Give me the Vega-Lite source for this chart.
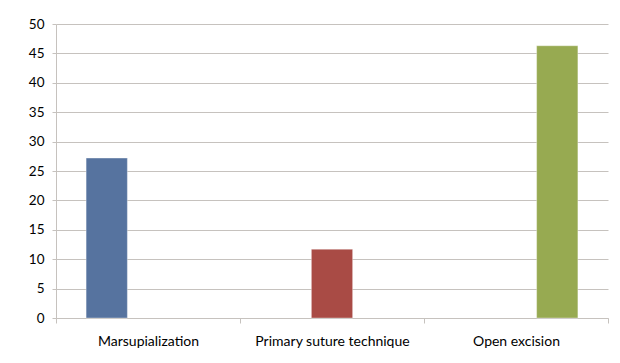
{
  "$schema": "https://vega.github.io/schema/vega-lite/v6.json",
  "width": 552,
  "height": 294,
  "autosize": {"type": "none"},
  "padding": {"left": 56, "top": 24, "right": 12, "bottom": 45},
  "background": "white",
  "data": {
    "values": [
      {"technique": "Marsupialization", "value": 27.2},
      {"technique": "Primary suture technique", "value": 11.7},
      {"technique": "Open excision", "value": 46.3}
    ]
  },
  "mark": {"type": "bar", "stroke": "#ffffff", "strokeOpacity": 0.35, "strokeWidth": 1},
  "encoding": {
    "x": {
      "field": "technique",
      "type": "nominal",
      "sort": ["Marsupialization", "Primary suture technique", "Open excision"],
      "scale": {"paddingInner": 0, "paddingOuter": 0},
      "axis": {
        "title": null,
        "labelAngle": 0,
        "tickBand": "extent",
        "tickSize": 5,
        "tickColor": "#c6c2be",
        "domainColor": "#c6c2be",
        "labelPadding": 11,
        "labelFont": "Lato",
        "labelFontSize": 14,
        "labelColor": "#000000"
      }
    },
    "xOffset": {
      "field": "technique",
      "type": "nominal",
      "sort": ["Marsupialization", "Primary suture technique", "Open excision"],
      "scale": {"paddingInner": 0, "paddingOuter": 0.73}
    },
    "y": {
      "field": "value",
      "type": "quantitative",
      "scale": {"domain": [0, 50]},
      "axis": {
        "title": null,
        "values": [0, 5, 10, 15, 20, 25, 30, 35, 40, 45, 50],
        "tickSize": 4,
        "tickColor": "#c6c2be",
        "domainColor": "#c6c2be",
        "gridColor": "#c6c2be",
        "labelPadding": 8,
        "labelFont": "Lato",
        "labelFontSize": 13.5,
        "labelColor": "#000000"
      }
    },
    "color": {
      "field": "technique",
      "type": "nominal",
      "scale": {
        "domain": ["Marsupialization", "Primary suture technique", "Open excision"],
        "range": ["#56739f", "#a94b45", "#97aa51"]
      },
      "legend": null
    }
  },
  "config": {"view": {"stroke": null}}
}
